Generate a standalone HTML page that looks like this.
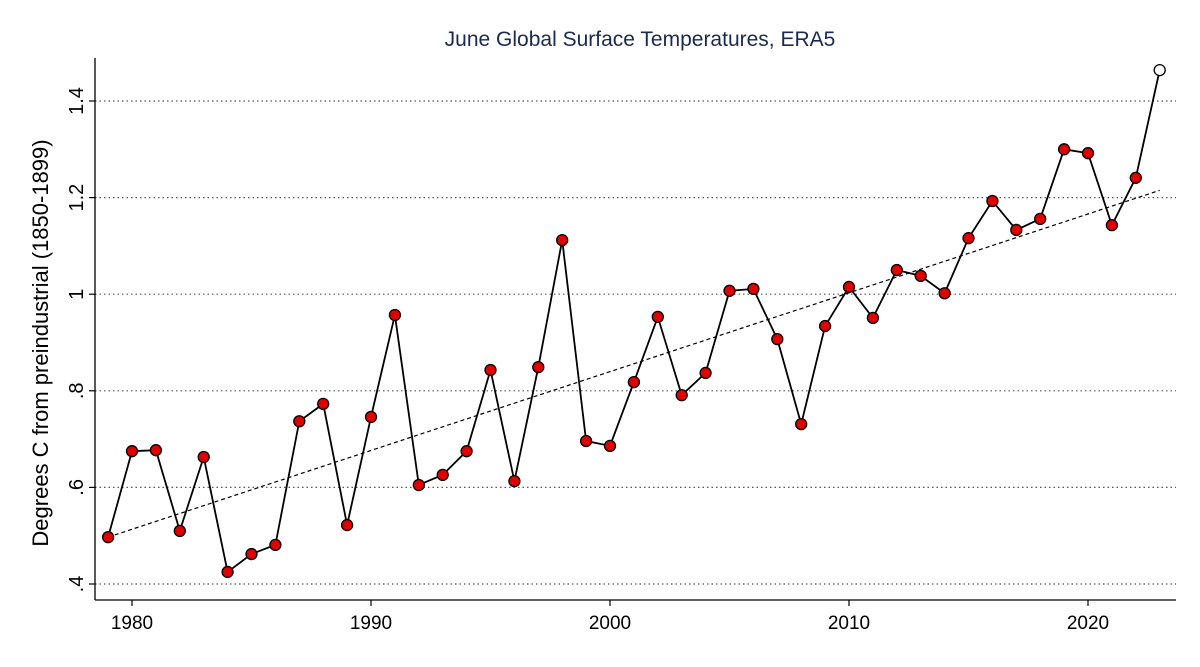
<!DOCTYPE html>
<html><head><meta charset="utf-8"><style>
body{margin:0;background:#fff;}
svg{display:block;font-family:"Liberation Sans",sans-serif;}
</style></head><body>
<svg id="chart" width="1200" height="667" viewBox="0 0 1200 667">
<text x="640" y="46" text-anchor="middle" font-size="21" fill="#1a2a4f">June Global Surface Temperatures, ERA5</text>
<text transform="translate(48,343) rotate(-90)" text-anchor="middle" font-size="22" fill="#000">Degrees C from preindustrial (1850-1899)</text>
<g id="grid"></g><g id="axes"></g><g id="trend"></g><g id="series"></g>
</svg>
<script>
const years=[1979,1980,1981,1982,1983,1984,1985,1986,1987,1988,1989,1990,1991,1992,1993,1994,1995,1996,1997,1998,1999,2000,2001,2002,2003,2004,2005,2006,2007,2008,2009,2010,2011,2012,2013,2014,2015,2016,2017,2018,2019,2020,2021,2022,2023];
const temps=[0.497,0.675,0.677,0.51,0.663,0.425,0.462,0.481,0.737,0.773,0.522,0.746,0.957,0.605,0.626,0.675,0.843,0.613,0.849,1.112,0.696,0.686,0.818,0.953,0.791,0.837,1.007,1.011,0.907,0.731,0.934,1.015,0.951,1.05,1.038,1.002,1.116,1.193,1.133,1.156,1.30,1.292,1.143,1.241,1.464];
const trendYears=[1979,2023];
const trendValues=[0.497,1.215];
const yTicks=[0.4,0.6,0.8,1.0,1.2,1.4];
const yTickLabels=[".4",".6",".8","1","1.2","1.4"];
const xTicks=[1980,1990,2000,2010,2020];
const xTickLabels=["1980","1990","2000","2010","2020"];
const NS="http://www.w3.org/2000/svg";
const X=y=>132+(y-1980)*(1088-132)/40;
const Y=v=>584-(v-0.4)*483;
function mk(parent,tag,attrs){const e=document.createElementNS(NS,tag);for(const k in attrs)e.setAttribute(k,attrs[k]);document.getElementById(parent).appendChild(e);return e;}
const L=95,R=1176,T=58,B=600;
yTicks.forEach((t,i)=>{
 const g=mk('grid','line',{x1:L,x2:R,y1:Y(t),y2:Y(t),stroke:'#555','stroke-width':1.2,'stroke-dasharray':'1.5,3'});
 
 
 const tk=mk('axes','line',{x1:L-6,x2:L,y1:Y(t),y2:Y(t),stroke:'#000','stroke-width':1.2});
 
 
 const tx=mk('axes','text',{transform:`translate(${L-12},${Y(t)}) rotate(-90)`,'text-anchor':'middle','font-size':20});
 tx.textContent=yTickLabels[i];
 
 
});
xTicks.forEach((t,i)=>{
 const tk=mk('axes','line',{x1:X(t),x2:X(t),y1:B,y2:B+6,stroke:'#000','stroke-width':1.2});
 
 
 const tx=mk('axes','text',{x:X(t),y:B+29,'text-anchor':'middle','font-size':19});
 tx.textContent=xTickLabels[i];
 
 
});
const ya=mk('axes','line',{x1:L,x2:L,y1:T,y2:B,stroke:'#000','stroke-width':1.3});


const xa=mk('axes','line',{x1:L,x2:R,y1:B,y2:B,stroke:'#000','stroke-width':1.3});


const tl=mk('trend','line',{x1:X(trendYears[0]),y1:Y(trendValues[0]),x2:X(trendYears[1]),y2:Y(trendValues[1]),stroke:'#000','stroke-width':1.2,'stroke-dasharray':'4,3'});


const pl=mk('series','polyline',{points:years.map((y,i)=>X(y)+','+Y(temps[i])).join(' '),fill:'none',stroke:'#000','stroke-width':1.8});


years.forEach((y,i)=>{
 const last=i===years.length-1;
 const c=mk('series','circle',{cx:X(y),cy:Y(temps[i]),r:5.5,fill:last?'#fff':'#e00000',stroke:'#000','stroke-width':1.3});
 
 
});
</script>
</body></html>
